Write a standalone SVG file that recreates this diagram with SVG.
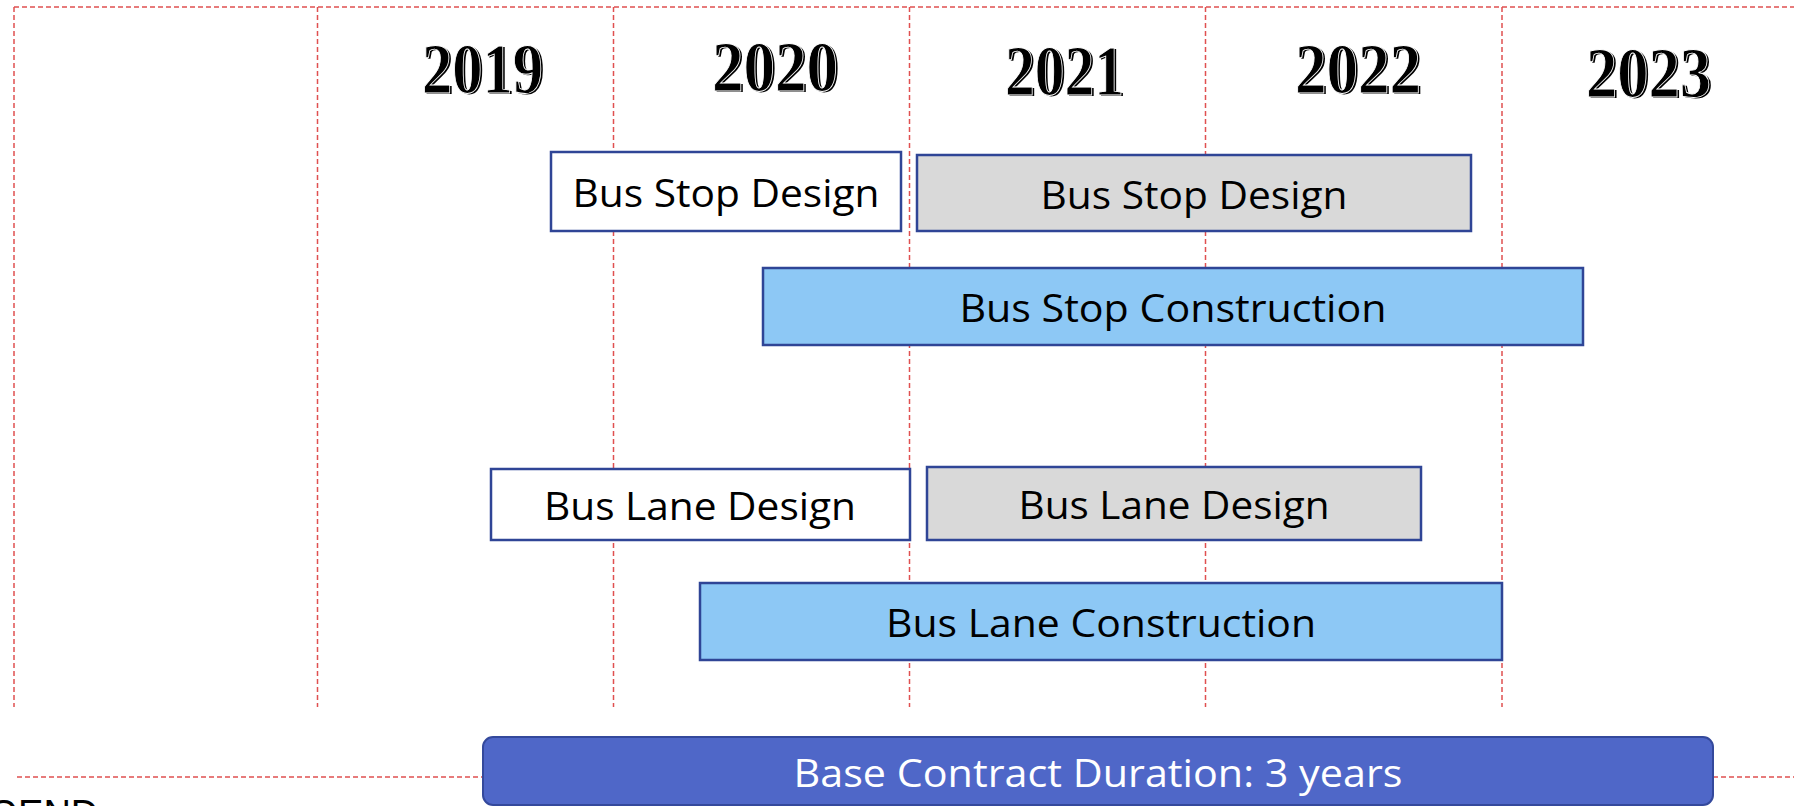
<svg xmlns="http://www.w3.org/2000/svg" width="1794" height="806" viewBox="0 0 1794 806">
<style>
.grid{stroke:#E05050;stroke-width:1.5;stroke-dasharray:5 3;fill:none}
.yr{font-family:"Liberation Serif","Times New Roman",serif;font-weight:bold;font-size:71px;fill:#000}
.yrs{font-family:"Liberation Serif","Times New Roman",serif;font-weight:bold;font-size:71px;fill:#000;stroke:#fff;stroke-width:0.9}
.box{stroke:#2F4596;stroke-width:2.5}
.white{fill:#FFFFFF}
.gray{fill:#D9D9D9}
.blue{fill:#8DC8F5}
.base{fill:#4F67C8;stroke:#34499C;stroke-width:2}
.lbl{font-family:"Open Sans","Noto Sans",sans-serif;font-size:38px;fill:#000}
.lblw{font-family:"Open Sans","Noto Sans",sans-serif;font-size:39px;fill:#fff}
.leg{font-family:"Liberation Sans",Arial,sans-serif;font-size:38px;fill:#000}
</style>
<rect width="1794" height="806" fill="#fff"/>
<g id="connectors">
<line class="grid" x1="14" y1="7" x2="1794" y2="7"/>
<line class="grid" x1="14" y1="7" x2="14" y2="707"/>
<line class="grid" x1="317.5" y1="7" x2="317.5" y2="707"/>
<line class="grid" x1="613.5" y1="7" x2="613.5" y2="707"/>
<line class="grid" x1="909.5" y1="7" x2="909.5" y2="707"/>
<line class="grid" x1="1205.5" y1="7" x2="1205.5" y2="707"/>
<line class="grid" x1="1502" y1="7" x2="1502" y2="707"/>
<line class="grid" x1="17" y1="777" x2="483" y2="777"/>
<line class="grid" x1="1713" y1="777" x2="1794" y2="777"/>
</g>
<g id="years">
<text class="yr" x="424" y="94" textLength="121" lengthAdjust="spacingAndGlyphs">2019</text>
<text class="yrs" x="422" y="93" textLength="121" lengthAdjust="spacingAndGlyphs">2019</text>
<text class="yr" x="714" y="92" textLength="126" lengthAdjust="spacingAndGlyphs">2020</text>
<text class="yrs" x="712" y="91" textLength="126" lengthAdjust="spacingAndGlyphs">2020</text>
<text class="yr" x="1007" y="95.5" textLength="119" lengthAdjust="spacingAndGlyphs">2021</text>
<text class="yrs" x="1005" y="94.5" textLength="119" lengthAdjust="spacingAndGlyphs">2021</text>
<text class="yr" x="1297" y="94" textLength="126" lengthAdjust="spacingAndGlyphs">2022</text>
<text class="yrs" x="1295" y="93" textLength="126" lengthAdjust="spacingAndGlyphs">2022</text>
<text class="yr" x="1588" y="98" textLength="125" lengthAdjust="spacingAndGlyphs">2023</text>
<text class="yrs" x="1586" y="97" textLength="125" lengthAdjust="spacingAndGlyphs">2023</text>
</g>
<g id="bus-stop-design-1">
<rect class="box white" x="551" y="152" width="350" height="79"/>
<text class="lbl" x="726" y="207" text-anchor="middle" textLength="307" lengthAdjust="spacingAndGlyphs">Bus Stop Design</text>
</g>
<g id="bus-stop-design-2">
<rect class="box gray" x="917" y="155" width="554" height="76"/>
<text class="lbl" x="1194" y="209" text-anchor="middle" textLength="307" lengthAdjust="spacingAndGlyphs">Bus Stop Design</text>
</g>
<g id="bus-stop-construction">
<rect class="box blue" x="763" y="268" width="820" height="77"/>
<text class="lbl" x="1173" y="322" text-anchor="middle" textLength="427" lengthAdjust="spacingAndGlyphs">Bus Stop Construction</text>
</g>
<g id="bus-lane-design-1">
<rect class="box white" x="491" y="469" width="419" height="71"/>
<text class="lbl" x="700" y="520" text-anchor="middle" textLength="312" lengthAdjust="spacingAndGlyphs">Bus Lane Design</text>
</g>
<g id="bus-lane-design-2">
<rect class="box gray" x="927" y="467" width="494" height="73"/>
<text class="lbl" x="1174" y="519" text-anchor="middle" textLength="311" lengthAdjust="spacingAndGlyphs">Bus Lane Design</text>
</g>
<g id="bus-lane-construction">
<rect class="box blue" x="700" y="583" width="802" height="77"/>
<text class="lbl" x="1101" y="637" text-anchor="middle" textLength="430" lengthAdjust="spacingAndGlyphs">Bus Lane Construction</text>
</g>
<g id="base-contract">
<rect class="base" x="483" y="737" width="1230" height="68" rx="10"/>
<text class="lblw" x="1098" y="787" text-anchor="middle" textLength="609" lengthAdjust="spacingAndGlyphs">Base Contract Duration: 3 years</text>
</g>
<g id="legend">
<text class="leg" x="-58" y="827">LEGEND</text>
</g>
</svg>
